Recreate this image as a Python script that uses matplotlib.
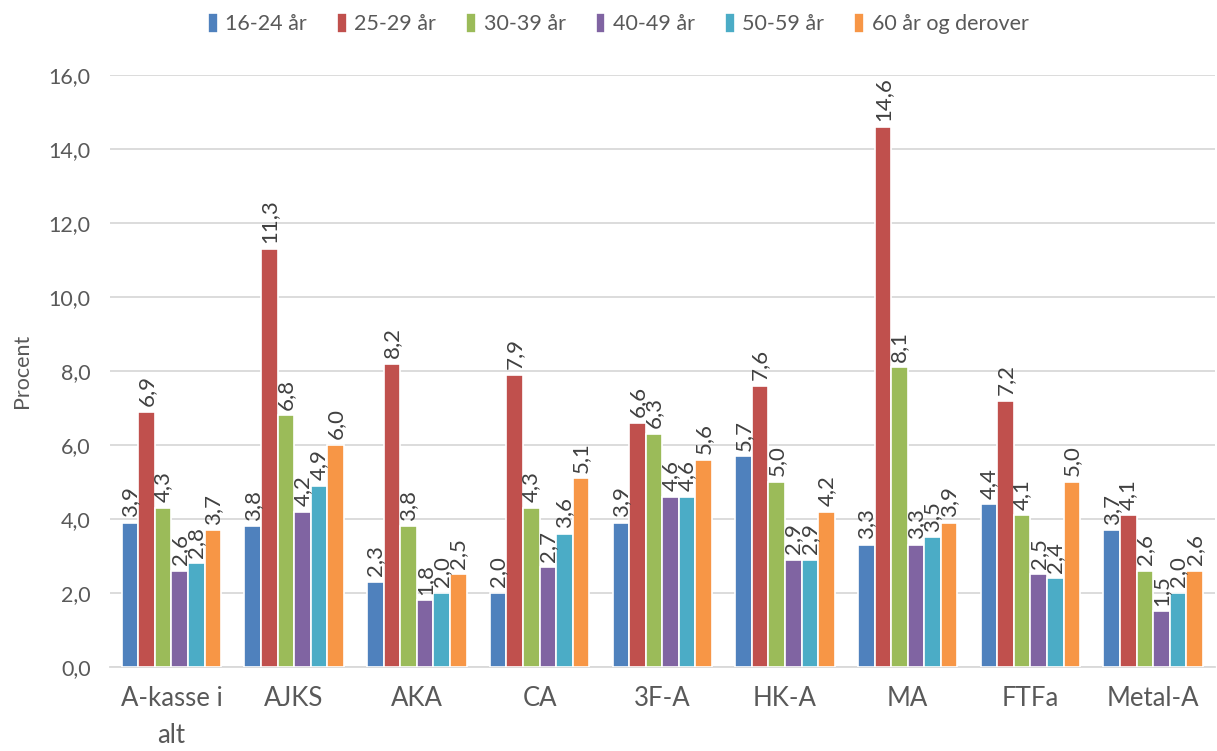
import matplotlib
matplotlib.use("Agg")
import matplotlib.pyplot as plt
import numpy as np

categories = ["A-kasse i\nalt", "AJKS", "AKA", "CA", "3F-A", "HK-A", "MA", "FTFa", "Metal-A"]
series_names = ["16-24 år", "25-29 år", "30-39 år", "40-49 år", "50-59 år", "60 år og derover"]
values = [
    [3.9, 3.8, 2.3, 2.0, 3.9, 5.7, 3.3, 4.4, 3.7],
    [6.9, 11.3, 8.2, 7.9, 6.6, 7.6, 14.6, 7.2, 4.1],
    [4.3, 6.8, 3.8, 4.3, 6.3, 5.0, 8.1, 4.1, 2.6],
    [2.6, 4.2, 1.8, 2.7, 4.6, 2.9, 3.3, 2.5, 1.5],
    [2.8, 4.9, 2.0, 3.6, 4.6, 2.9, 3.5, 2.4, 2.0],
    [3.7, 6.0, 2.5, 5.1, 5.6, 4.2, 3.9, 5.0, 2.6],
]
colors = ["#4F81BD", "#C0504D", "#9BBB59", "#8064A2", "#4BACC6", "#F79646"]
yticks = [0, 2, 4, 6, 8, 10, 12, 14, 16]

plt.rcParams['font.family'] = ['Lato', 'DejaVu Sans']
txt = "#595959"

fig = plt.figure(figsize=(12.17, 7.51), dpi=100)
ax = fig.add_axes([0.0904, 0.1119, 0.9076, 0.7881])

n = len(series_names)
slot = 0.135
x = np.arange(len(categories))
for i, (name, vals, c) in enumerate(zip(series_names, values, colors)):
    pos = x + (i - (n - 1) / 2) * slot
    bars = ax.bar(pos, vals, width=slot, color=c, edgecolor="white", linewidth=1.2,
                  label=name, zorder=3)
    for b, v in zip(bars, vals):
        ax.annotate(f"{v:.1f}".replace(".", ","),
                    (b.get_x() + b.get_width() / 2, b.get_height()),
                    xytext=(0, 4), textcoords="offset points",
                    rotation=90, ha="center", va="bottom",
                    fontsize=16, color="#404040", zorder=4)

ax.set_xlim(-0.5, len(categories) - 0.5)
ax.set_ylim(0, 16)
ax.set_yticks(yticks)
ax.set_yticklabels([f"{t:.1f}".replace(".", ",") for t in yticks], fontsize=15.5, color=txt)
ax.set_xticks(x)
ax.set_xticklabels(categories, fontsize=18.5, color=txt, linespacing=1.6)
ax.tick_params(axis="both", length=0)
ax.tick_params(axis="x", pad=14)
ax.tick_params(axis="y", pad=14)
ax.yaxis.grid(True, color="#D9D9D9", linewidth=1.3, zorder=0)
ax.set_axisbelow(True)
for s in ["top", "right", "left"]:
    ax.spines[s].set_visible(False)
ax.spines["bottom"].set_color("#D9D9D9")
ax.spines["bottom"].set_linewidth(1.3)
ax.set_ylabel("Procent", fontsize=15.5, color=txt, labelpad=12)

leg = fig.legend(loc="upper center", bbox_to_anchor=(0.508, 1.008), ncol=6, frameon=False,
                 fontsize=15.5, handlelength=0.45, handleheight=1.0, handletextpad=0.35,
                 columnspacing=1.4)
for t in leg.get_texts():
    t.set_color(txt)

fig.savefig("out.png", dpi=100)
